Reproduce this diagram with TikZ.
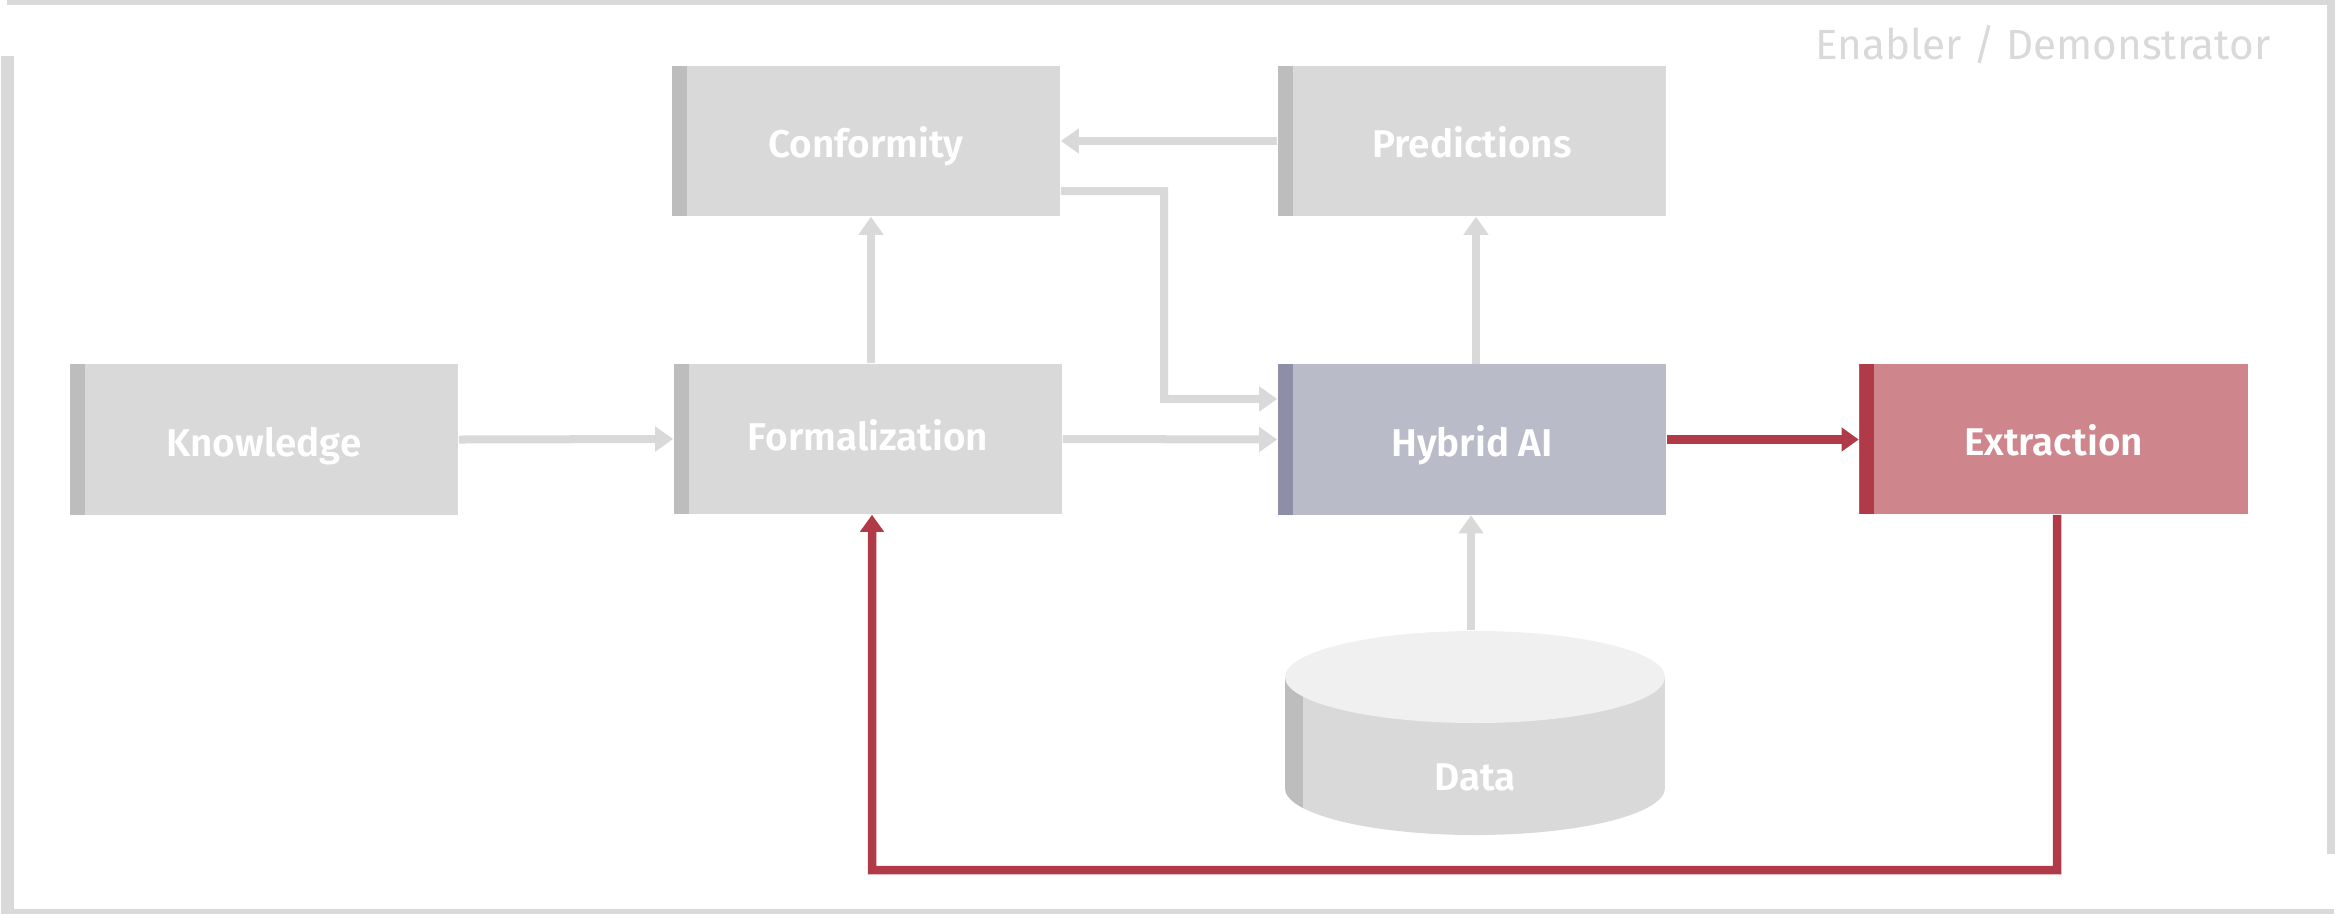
\documentclass[tikz,border=0pt]{standalone}
\usepackage{fontspec}
\setmainfont{Fira Sans}[BoldFont={Fira Sans SemiBold}]
\usetikzlibrary{arrows.meta}
\definecolor{boxgray}{HTML}{D9D9D9}
\definecolor{stripgray}{HTML}{BDBDBD}
\definecolor{framegray}{HTML}{D9D9D9}
\definecolor{hybfill}{HTML}{BABBC8}
\definecolor{hybstrip}{HTML}{8E8EA6}
\definecolor{extfill}{HTML}{CF858C}
\definecolor{redline}{HTML}{B03A48}
\definecolor{datatop}{HTML}{F0F0F0}
\begin{document}
\begin{tikzpicture}[x=0.01cm,y=-0.01cm,
  box/.style={rectangle, fill=boxgray, minimum width=3.88cm, minimum height=1.5cm, inner sep=0pt,
    font=\fontsize{11}{13}\selectfont\bfseries, text=white, text height=0.33cm, text depth=0pt,
    path picture={\fill[#1] (path picture bounding box.south west) rectangle ([xshift=0.15cm]path picture bounding box.north west);}},
  box/.default=stripgray,
  lbl/.style={font=\fontsize{11}{13}\selectfont\bfseries, text=white, inner sep=0pt, text height=0.27cm, text depth=0pt},
  garrow/.style={draw=boxgray, line width=0.08cm, -{Triangle[length=0.18cm,width=0.24cm]}},
  rarrow/.style={draw=redline, line width=0.085cm, -{Triangle[length=0.17cm,width=0.23cm]}},
  frame/.style={fill=framegray}
]
\useasboundingbox (0,0) rectangle (2335,914);
% frame
\fill[frame] (7,0) rectangle (2327,5);
\fill[frame] (2327,0) rectangle (2335,854);
\fill[frame] (1,56) rectangle (14,914);
\fill[frame] (1,909) rectangle (2334,914);
\node[anchor=base east, text=framegray, font=\fontsize{12}{14}\selectfont, inner sep=0pt] (title) at (2271,59) {Enabler / Demonstrator};

% boxes
\node[box] (know) at (264,439.5) {Knowledge};
\node[box, text depth=0.11cm] (form) at (868,439) {Formalization};
\node[box] (conf) at (866,141) {Conformity};
\node[box] (pred) at (1472,141) {Predictions};
\node[box=hybstrip, fill=hybfill] (hyb) at (1472,439.5) {Hybrid AI};
\node[box=redline, fill=extfill] (extr) at (2053.5,439) {Extraction};

% data cylinder
\node[minimum width=3.8cm, minimum height=2.04cm, inner sep=0pt] (data) at (1475,733) {};
\fill[boxgray] (1285,677) rectangle (1665,788);
\fill[boxgray] (1475,788) ellipse[x radius=190, y radius=47];
\fill[stripgray] (1285,677) rectangle (1303,788);
\begin{scope}
  \clip (1475,788) ellipse[x radius=190, y radius=47];
  \fill[stripgray] (1284,780) rectangle (1303,840);
\end{scope}
\fill[datatop] (1475,677) ellipse[x radius=190, y radius=46];
\node[lbl] (datalbl) at (1475,777) {Data};

% connectors
\draw[garrow] (know.east) -- (form.west);
\draw[garrow] ([xshift=0.03cm]form.north) -- ([xshift=0.03cm]form.north |- conf.south);
\draw[garrow] (pred.west |- conf.east) -- (conf.east);
\coordinate (bend) at (1164,191);
\draw[garrow] ([yshift=-0.5cm]conf.east) -- (bend) |- ([yshift=0.405cm]hyb.west);
\draw[garrow] (form.east) -- (hyb.west);
\draw[garrow] ([xshift=0.04cm]hyb.north) -- ([xshift=0.04cm]pred.south);
\draw[garrow] ([xshift=-0.04cm]data.north) -- ([xshift=-0.04cm]data.north |- hyb.south);
\draw[rarrow] (hyb.east) -- (hyb.east -| extr.west);
\coordinate (loop) at (2057,870);
\draw[rarrow] ([xshift=0.035cm]extr.south) -- (loop) -| ([xshift=0.04cm]form.south);
\end{tikzpicture}
\end{document}
